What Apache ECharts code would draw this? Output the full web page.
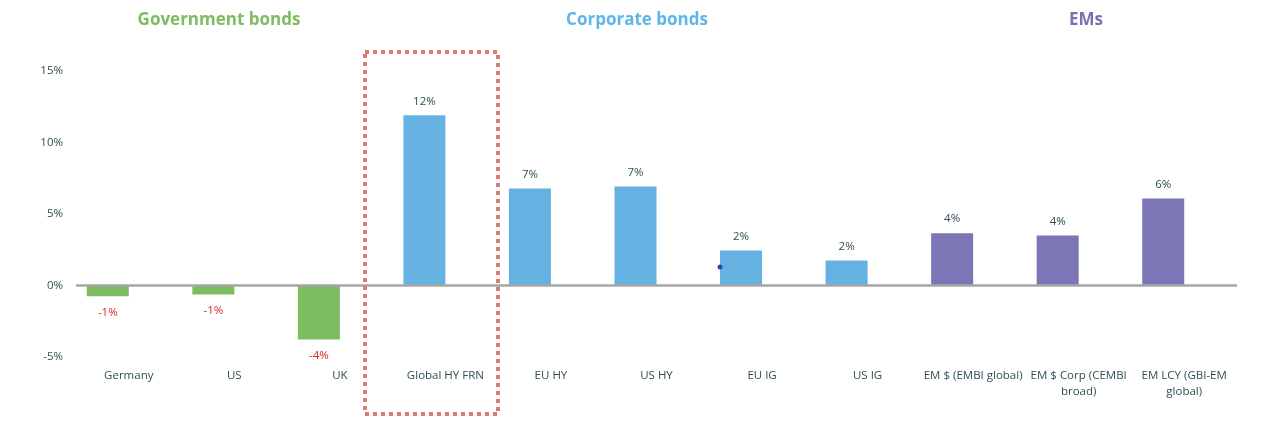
<!DOCTYPE html>
<html lang="en">
  <head>
    <meta charset="UTF-8" />
    <title>Bond returns</title>
    <script src="https://cdn.jsdelivr.net/npm/echarts@6/dist/echarts.min.js"></script>
    <style>
      html, body { margin: 0; padding: 0; background: #fff; }
    </style>
  </head>
  <body>
    <div id="chart" style="width: 1280px; height: 424px"></div>
  </body>
  <script>
    const categories = [
      'Germany', 'US', 'UK', 'Global HY FRN', 'EU HY', 'US HY', 'EU IG', 'US IG',
      'EM $ (EMBI global)', 'EM $ Corp (CEMBI\nbroad)', 'EM LCY (GBI-EM\nglobal)'
    ]
    const values = [-0.75, -0.63, -3.77, 11.9, 6.78, 6.92, 2.45, 1.75, 3.66, 3.5, 6.08]
    const groups = ['gov', 'gov', 'gov', 'corp', 'corp', 'corp', 'corp', 'corp', 'em', 'em', 'em']
    const groupTitles = ['Government bonds', 'Corporate bonds', 'EMs']
    const yTicks = [-5, 0, 5, 10, 15]

    const colors = { gov: '#7dbd5f', corp: '#65b2e2', em: '#7b76b6' }
    const textColor = '#2f4f55'
    const font = 'Open Sans'

    const chart = echarts.init(document.getElementById('chart'))

    const titleStyle = c => ({ color: c, fontSize: 17, fontWeight: 'bold', fontFamily: font })

    const option = {
      animation: false,
      backgroundColor: '#fff',
      title: [
        { text: groupTitles[0], left: 214, top: 7, textAlign: 'center', textStyle: titleStyle('#7dbd5f') },
        { text: groupTitles[1], left: 632, top: 7, textAlign: 'center', textStyle: titleStyle('#5fb6e6') },
        { text: groupTitles[2], left: 1081, top: 7, textAlign: 'center', textStyle: titleStyle('#7b6fb2') }
      ],
      grid: { left: 76, right: 43, top: 71, bottom: 67 },
      xAxis: {
        type: 'category',
        data: categories,
        axisLine: { show: false, onZero: false },
        axisTick: { show: false },
        axisLabel: {
          interval: 0,
          margin: 11,
          color: textColor,
          fontSize: 11.5,
          fontFamily: font,
          lineHeight: 16
        }
      },
      yAxis: {
        type: 'value',
        min: yTicks[0],
        max: yTicks[yTicks.length - 1],
        interval: 5,
        splitLine: { show: false },
        axisLine: { show: false },
        axisTick: { show: false },
        axisLabel: {
          formatter: '{value}%',
          color: textColor,
          fontSize: 11.5,
          fontFamily: font,
          margin: 13
        }
      },
      series: [
        {
          name: 'Return',
          type: 'bar',
          barWidth: 42,
          barGap: '0%',
          data: values.map((v, i) => ({
            value: v,
            itemStyle: { color: colors[groups[i]] },
            label: {
              position: v < 0 ? 'bottom' : 'top',
              color: v < 0 ? '#d9262e' : textColor,
              distance: v < 0 ? 10 : 8
            }
          })),
          label: {
            show: true,
            fontSize: 11.5,
            fontFamily: font,
            formatter: p => Math.round(p.value) + '%'
          },
          markLine: {
            silent: true,
            symbol: 'none',
            label: { show: false },
            lineStyle: { color: '#a6a6a6', width: 2.5, type: 'solid' },
            data: [{ yAxis: 0 }]
          },
          z: 3
        },
        {
          name: 'spacer',
          type: 'bar',
          barWidth: 42,
          data: categories.map(() => null)
        }
      ],
      graphic: [
        {
          type: 'rect',
          shape: { x: 365, y: 52, width: 133, height: 362 },
          style: { fill: 'none', stroke: '#dc7a72', lineWidth: 4, lineDash: [4, 4] },
          z: 10
        },
        {
          type: 'circle',
          shape: { cx: 720, cy: 267, r: 2.5 },
          style: { fill: '#3340c8' },
          z: 10
        }
      ]
    }
    chart.setOption(option)
  </script>
</html>
